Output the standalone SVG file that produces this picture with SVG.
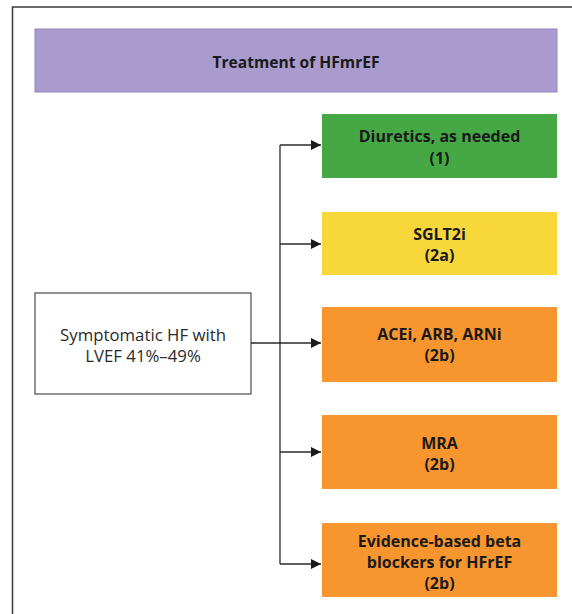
<svg xmlns="http://www.w3.org/2000/svg" width="572" height="614" viewBox="0 0 572 614">
  <defs>
    <marker id="arrow" viewBox="0 0 10 10" refX="10" refY="5" markerWidth="11" markerHeight="10" markerUnits="userSpaceOnUse" orient="auto">
      <path d="M0,0 L10,5 L0,10 z" fill="#1a1a1a"/>
    </marker>
    <style>
      .frame { fill: #ffffff; stroke: #3a3a3a; stroke-width: 1.5; }
      .title { fill: #a99bce; stroke: #9488bd; stroke-width: 1; }
      .src { fill: #ffffff; stroke: #4a4a4a; stroke-width: 1.2; }
      .green { fill: #45a845; }
      .yellow { fill: #f8d73b; }
      .orange { fill: #f7962f; }
      .bold { font-family: "Open Sans", Lato, sans-serif; font-weight: 700; font-size: 16px; fill: #1a1a1a; text-anchor: middle; dominant-baseline: central; }
      .head { font-size: 15.6px; }
      .reg { font-family: "Open Sans", Lato, sans-serif; font-size: 16.8px; fill: #2a2a2a; text-anchor: middle; dominant-baseline: central; }
      .wire { fill: none; stroke: #2a2a2a; stroke-width: 1.3; }
    </style>
  </defs>

  <rect width="572" height="614" fill="#ffffff"/>
  <rect class="frame" x="12.5" y="7" width="580" height="620"/>

  <g id="header">
    <rect class="title" x="35" y="29" width="522" height="63"/>
    <text class="bold head" x="296" y="62">Treatment of HFmrEF</text>
  </g>

  <g id="condition">
    <rect class="src" x="35" y="293" width="216" height="101"/>
    <text class="reg" x="143" y="334">Symptomatic HF with</text>
    <text class="reg" x="143" y="355">LVEF 41%–49%</text>
  </g>

  <g id="diuretics">
    <rect class="green" x="322" y="114" width="235" height="64"/>
    <text class="bold" x="439.5" y="136">Diuretics, as needed</text>
    <text class="bold" x="439.5" y="158">(1)</text>
  </g>

  <g id="sglt2i">
    <rect class="yellow" x="322" y="212" width="235" height="63"/>
    <text class="bold" x="439.5" y="234">SGLT2i</text>
    <text class="bold" x="439.5" y="255">(2a)</text>
  </g>

  <g id="acei">
    <rect class="orange" x="322" y="307" width="235" height="75"/>
    <text class="bold" x="439.5" y="334">ACEi, ARB, ARNi</text>
    <text class="bold" x="439.5" y="355">(2b)</text>
  </g>

  <g id="mra">
    <rect class="orange" x="322" y="415" width="235" height="74"/>
    <text class="bold" x="439.5" y="443">MRA</text>
    <text class="bold" x="439.5" y="464">(2b)</text>
  </g>

  <g id="betablockers">
    <rect class="orange" x="322" y="523" width="235" height="74"/>
    <text class="bold" x="439.5" y="540.5">Evidence-based beta</text>
    <text class="bold" x="439.5" y="561.5">blockers for HFrEF</text>
    <text class="bold" x="439.5" y="582.5">(2b)</text>
  </g>

  <g id="connectors">
    <path class="wire" d="M280,145 V564"/>
    <path class="wire" d="M280,145 H321" marker-end="url(#arrow)"/>
    <path class="wire" d="M280,244 H321" marker-end="url(#arrow)"/>
    <path class="wire" d="M251,343 H321" marker-end="url(#arrow)"/>
    <path class="wire" d="M280,452 H321" marker-end="url(#arrow)"/>
    <path class="wire" d="M280,564 H321" marker-end="url(#arrow)"/>
  </g>
</svg>
